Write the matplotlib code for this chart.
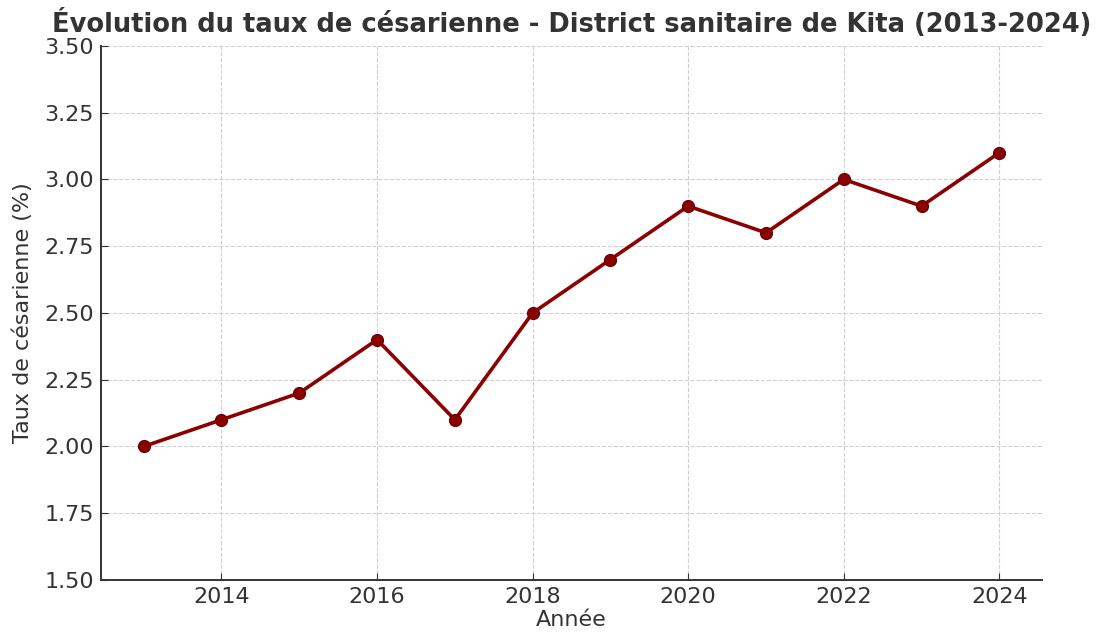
import matplotlib.pyplot as plt

# Taux de césarienne annuel, district sanitaire de Kita
annees = [2013, 2014, 2015, 2016, 2017, 2018, 2019, 2020, 2021, 2022, 2023, 2024]
taux = [2.0, 2.1, 2.2, 2.4, 2.1, 2.5, 2.7, 2.9, 2.8, 3.0, 2.9, 3.1]

txt = '#333333'

fig = plt.figure(figsize=(10.97, 6.37), dpi=100)
ax = fig.add_axes([0.092, 0.0895, 0.858, 0.8385])

ax.plot(annees, taux, color='#8B0000', linewidth=2.6, marker='o', markersize=8.5,
        markeredgecolor='#6e0000')

ax.set_ylim(1.5, 3.5)
ax.set_yticks([1.5, 1.75, 2.0, 2.25, 2.5, 2.75, 3.0, 3.25, 3.5])
ax.set_xticks([2014, 2016, 2018, 2020, 2022, 2024])

ax.grid(True, linestyle='--', color='#d0d0d0', linewidth=0.8)
ax.spines['top'].set_visible(False)
ax.spines['right'].set_visible(False)
for s in ('left', 'bottom'):
    ax.spines[s].set_color(txt)
    ax.spines[s].set_linewidth(1.4)
ax.tick_params(direction='in', labelsize=16, colors=txt, length=5, pad=5)

ax.set_title('Évolution du taux de césarienne - District sanitaire de Kita (2013-2024)',
             fontsize=18.5, fontweight='bold', color=txt, pad=10)
ax.set_xlabel('Année', fontsize=16, color=txt, labelpad=2)
ax.set_ylabel('Taux de césarienne (%)', fontsize=16, color=txt, labelpad=8)

fig.savefig('out.png', dpi=100)
